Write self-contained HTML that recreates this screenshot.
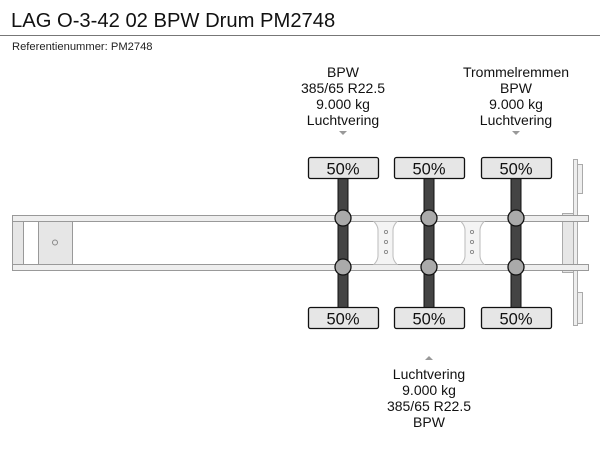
<!DOCTYPE html>
<html><head><meta charset="utf-8"><style>
html,body{margin:0;padding:0;background:#fff;width:600px;height:450px;overflow:hidden}
svg{display:block;font-family:"Liberation Sans",Arial,sans-serif}
</style></head><body>
<svg width="600" height="450" viewBox="0 0 600 450" xmlns="http://www.w3.org/2000/svg">
<text x="11" y="27" font-size="20.2" fill="#111">LAG O-3-42 02 BPW Drum PM2748</text>
<line x1="0" y1="35.5" x2="600" y2="35.5" stroke="#777" stroke-width="1"/>
<text x="12" y="50" font-size="11.2" fill="#222">Referentienummer: PM2748</text>

<g font-size="14" fill="#111" text-anchor="middle">
<text x="343" y="77">BPW</text><text x="343" y="93">385/65 R22.5</text><text x="343" y="109">9.000 kg</text><text x="343" y="125">Luchtvering</text>
<text x="516" y="77">Trommelremmen</text><text x="516" y="93">BPW</text><text x="516" y="109">9.000 kg</text><text x="516" y="125">Luchtvering</text>
<text x="429" y="379">Luchtvering</text><text x="429" y="395">9.000 kg</text><text x="429" y="411">385/65 R22.5</text><text x="429" y="427">BPW</text>
</g>
<g fill="#999">
<polygon points="339,131 347,131 343,135"/>
<polygon points="512,131 520,131 516,135"/>
<polygon points="425,360 433,360 429,356"/>
</g>

<g fill="#eee" stroke="#aaa" stroke-width="1">
<rect x="573.5" y="159.5" width="4" height="166"/>
<rect x="577.5" y="164.5" width="5" height="29"/>
<rect x="577.5" y="292.5" width="5" height="31"/>
<rect x="562.5" y="213.5" width="11" height="59" fill="#e6e6e6"/>
</g>
<g stroke="#999" stroke-width="1">
<rect x="12.5" y="215.5" width="576" height="6" fill="#eee"/>
<rect x="12.5" y="264.5" width="576" height="6" fill="#eee"/>
<rect x="12.5" y="221.5" width="11" height="43" fill="#e6e6e6"/>
<rect x="38.5" y="221.5" width="34" height="43" fill="#e6e6e6"/>
</g>
<circle cx="55" cy="242.5" r="2.5" fill="none" stroke="#888"/>
<g fill="#f4f4f4" stroke="#bbb" stroke-width="1">
<path d="M374,221.5 L397,221.5 Q393,226 393,230 L393,256 Q393,260 397,264.5 L374,264.5 Q378,260 378,256 L378,230 Q378,226 374,221.5Z"/>
<path d="M461,221.5 L484,221.5 Q480,226 480,230 L480,256 Q480,260 484,264.5 L461,264.5 Q465,260 465,256 L465,230 Q465,226 461,221.5Z"/>
</g>
<g fill="none" stroke="#888" stroke-width="0.9">
<circle cx="386" cy="232" r="1.6"/><circle cx="386" cy="242" r="1.6"/><circle cx="386" cy="252" r="1.6"/>
<circle cx="472" cy="232" r="1.6"/><circle cx="472" cy="242" r="1.6"/><circle cx="472" cy="252" r="1.6"/>
</g>

<g id="ax">
<rect x="338" y="177" width="10" height="131" fill="#444" stroke="#111" stroke-width="1"/>
<rect x="308.5" y="157.5" width="70" height="21" rx="2" fill="#e6e6e6" stroke="#111" stroke-width="1.3"/>
<rect x="308.5" y="307.5" width="70" height="21" rx="2" fill="#e6e6e6" stroke="#111" stroke-width="1.3"/>
<circle cx="343" cy="218" r="8" fill="#aaa" stroke="#111" stroke-width="1.3"/>
<circle cx="343" cy="267" r="8" fill="#aaa" stroke="#111" stroke-width="1.3"/>
<text x="343" y="174.5" font-size="16.5" text-anchor="middle" fill="#111">50%</text>
<text x="343" y="324.5" font-size="16.5" text-anchor="middle" fill="#111">50%</text>
</g>
<use href="#ax" x="86"/>
<use href="#ax" x="173"/>
</svg>
</body></html>
